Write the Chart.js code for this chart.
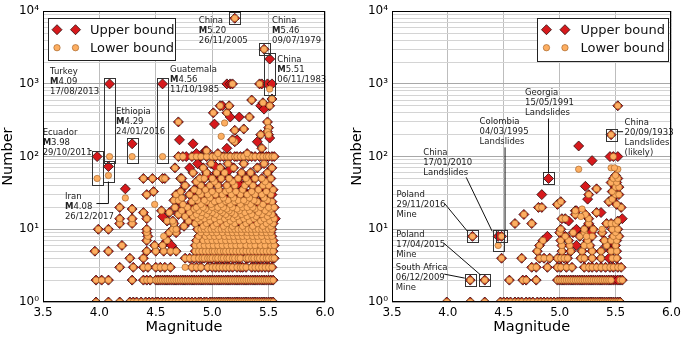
<!DOCTYPE html>
<html lang="en">
<head>
<meta charset="UTF-8" />
<title>Number vs magnitude</title>
<script src="https://cdn.jsdelivr.net/npm/chart.js@4.4.1/dist/chart.umd.min.js"></script>
<style>
  html, body { margin: 0; padding: 0; background: #fff; }
  .panel { position: absolute; top: 0; }
  #left { left: 0; }
  #right { left: 340px; }
</style>
</head>
<body>
<div class="panel" id="left"><canvas id="chartLeft" width="340" height="337"></canvas></div>
<div class="panel" id="right"><canvas id="chartRight" width="345" height="337"></canvas></div>

<script>
// ---- data: left panel ----
// integer levels where upper bound == lower bound, with the magnitudes found at each level
const leftLevels = [1, 2, 3, 4, 5, 6, 7, 8, 9, 10, 11, 12, 13, 14, 15, 16, 17, 18, 19, 20,
  22, 24, 25, 27, 30, 33, 35, 40, 45, 50, 60, 70, 80, 100];
const leftLevelMags = [
  [3.97, 4.08, 4.18, 4.27, 4.30, 4.33, 4.37, 4.41, 4.44, 4.47, 4.50, 4.52, 4.55, 4.58, 4.61, 4.64, 4.67, 4.70, 4.73, 4.76, 4.79, 4.82, 4.85, 4.88, 4.90, 4.93, 4.95, 4.98, 5.00, 5.02, 5.04, 5.06, 5.08, 5.10, 5.12, 5.14, 5.16, 5.18, 5.20, 5.22, 5.24, 5.26, 5.28, 5.30, 5.32, 5.34, 5.36, 5.38, 5.40, 5.42, 5.44, 5.46, 5.48, 5.50, 5.52, 5.54],
  [3.97, 4.02, 4.08, 4.29, 4.39, 4.42, 4.45, 4.50, 4.52, 4.54, 4.56, 4.58, 4.60, 4.62, 4.64, 4.66, 4.68, 4.70, 4.72, 4.74, 4.76, 4.78, 4.80, 4.82, 4.84, 4.86, 4.88, 4.90, 4.92, 4.94, 4.96, 4.98, 5.00, 5.02, 5.04, 5.06, 5.08, 5.10, 5.12, 5.14, 5.16, 5.18, 5.20, 5.22, 5.24, 5.26, 5.28, 5.30, 5.32, 5.34, 5.36, 5.38, 5.40, 5.42, 5.44, 5.46, 5.48, 5.50, 5.52, 5.54],
  [4.18, 4.30, 4.39, 4.43, 4.50, 4.54, 4.58, 4.63, 4.82, 4.86, 4.90, 4.96, 5.00, 5.03, 5.06, 5.09, 5.12, 5.15, 5.18, 5.22, 5.25, 5.27, 5.30, 5.35, 5.38, 5.41, 5.44, 5.47, 5.50, 5.53],
  [4.27, 4.39, 4.76, 4.80, 4.84, 4.88, 4.91, 4.93, 4.96, 4.98, 5.00, 5.03, 5.05, 5.08, 5.10, 5.13, 5.15, 5.18, 5.20, 5.23, 5.25, 5.30, 5.32, 5.35, 5.37, 5.40, 5.42, 5.45, 5.48, 5.50, 5.53, 5.55],
  [3.96, 4.08, 4.42, 4.50, 4.57, 4.63, 4.68, 4.85, 4.88, 4.91, 4.94, 4.97, 5.00, 5.02, 5.05, 5.07, 5.10, 5.12, 5.15, 5.18, 5.21, 5.24, 5.27, 5.30, 5.33, 5.36, 5.39, 5.42, 5.45, 5.48, 5.51, 5.54],
  [4.20, 4.49, 4.56, 4.85, 4.89, 4.93, 4.97, 5.01, 5.05, 5.09, 5.13, 5.17, 5.21, 5.25, 5.30, 5.34, 5.38, 5.43, 5.47, 5.52, 5.55],
  [4.42, 4.60, 4.86, 4.92, 4.96, 5.00, 5.04, 5.08, 5.12, 5.16, 5.20, 5.24, 5.28, 5.33, 5.37, 5.41, 5.46, 5.50, 5.54],
  [4.43, 4.88, 4.94, 4.98, 5.02, 5.06, 5.11, 5.15, 5.19, 5.23, 5.27, 5.31, 5.36, 5.40, 5.44, 5.49, 5.53],
  [4.42, 4.62, 4.68, 4.90, 4.95, 5.00, 5.04, 5.09, 5.14, 5.18, 5.22, 5.26, 5.31, 5.35, 5.39, 5.44, 5.48, 5.52],
  [3.99, 4.08, 4.42, 4.65, 4.68, 4.87, 4.90, 4.93, 4.96, 4.99, 5.02, 5.05, 5.08, 5.11, 5.14, 5.17, 5.20, 5.23, 5.26, 5.29, 5.32, 5.35, 5.38, 5.41, 5.44, 5.47, 5.50, 5.53],
  [4.75, 4.92, 5.01, 5.10, 5.18, 5.27, 5.36, 5.45, 5.52],
  [4.18, 4.29, 4.66, 4.85, 4.95, 5.04, 5.13, 5.20, 5.30, 5.40, 5.48, 5.54],
  [4.60, 4.65, 4.79, 4.89, 4.98, 5.07, 5.16, 5.24, 5.33, 5.43, 5.51],
  [4.18, 4.29, 4.42, 4.87, 4.93, 5.02, 5.11, 5.19, 5.28, 5.37, 5.46, 5.55],
  [4.76, 4.83, 4.90, 4.97, 5.06, 5.14, 5.22, 5.31, 5.39, 5.49],
  [4.70, 4.86, 4.95, 5.03, 5.12, 5.20, 5.26, 5.35, 5.44, 5.53],
  [4.39, 4.62, 4.80, 4.91, 5.00, 5.09, 5.17, 5.29, 5.41, 5.50],
  [4.55, 4.73, 4.88, 4.97, 5.07, 5.15, 5.24, 5.33, 5.47],
  [4.29, 4.84, 4.94, 5.04, 5.13, 5.22, 5.38, 5.52],
  [4.18, 4.67, 4.78, 4.86, 4.92, 5.00, 5.05, 5.10, 5.18, 5.27, 5.31, 5.36, 5.43, 5.50, 5.55],
  [4.74, 4.90, 4.99, 5.08, 5.16, 5.25, 5.34, 5.45],
  [4.82, 4.95, 5.02, 5.12, 5.20, 5.30, 5.40, 5.53],
  [4.66, 4.70, 4.87, 4.93, 5.06, 5.14, 5.23, 5.28, 5.37, 5.49],
  [4.73, 4.85, 4.98, 5.10, 5.19, 5.33, 5.46],
  [4.42, 4.68, 4.80, 4.90, 4.96, 5.03, 5.09, 5.17, 5.25, 5.31, 5.38, 5.44, 5.52],
  [4.48, 4.72, 4.88, 5.00, 5.12, 5.21, 5.35, 5.48],
  [4.84, 4.94, 5.06, 5.15, 5.27, 5.41, 5.54],
  [4.76, 4.90, 4.98, 5.05, 5.13, 5.20, 5.29, 5.36, 5.45, 5.50],
  [4.86, 5.02, 5.18, 5.32, 5.47],
  [4.39, 4.47, 4.56, 4.58, 4.72, 4.73, 4.89, 4.93, 5.00, 5.08, 5.15, 5.23, 5.30, 5.38, 5.44, 5.52],
  [4.83, 4.95, 5.04, 5.11, 5.26, 5.34, 5.49],
  [4.67, 4.92, 5.07, 5.19, 5.40, 5.53],
  [4.99, 5.14, 5.28, 5.46],
  [4.70, 4.74, 4.82, 4.86, 4.90, 4.95, 5.00, 5.03, 5.07, 5.10, 5.13, 5.16, 5.20, 5.22, 5.25, 5.28, 5.32, 5.35, 5.38, 5.42, 5.45, 5.48, 5.50, 5.53, 5.55]
];
// [magnitude, upper bound, lower bound] for the remaining events (null = not shown)
const leftPairs = [
  [3.98, 100, 50], [4.08, 73, 55], [4.09, 1000, 100], [4.29, 150, 100], [4.56, 1000, 100],
  [5.20, 8000, 8000], [5.46, 3000, 3000], [5.51, 2200, 850],
  [4.23, 36, 27], [4.49, null, 22], [4.56, 15, null], [4.57, null, 8], [4.64, 6, null], [4.76, null, 3],
  [4.70, 300, 300], [4.71, 170, null], [4.83, 150, null], [4.77, 100, null], [4.89, 100, null],
  [4.80, 70, null], [4.87, 80, null], [4.86, 110, null], [4.94, 120, null],
  [5.01, 400, 400], [5.07, 500, 500], [5.09, 500, null], [5.13, 400, 400], [5.15, 500, 500],
  [5.16, 350, null], [5.24, 350, null], [5.33, 350, 350], [5.11, null, 290], [5.02, 280, null],
  [5.08, null, 190], [5.20, 230, 230], [5.20, 160, 160], [5.28, 240, 240], [5.35, 600, 600],
  [5.43, 500, null], [5.45, 550, 550], [5.46, 450, null], [5.53, 620, 620], [5.51, 500, 500],
  [5.49, 300, 300], [5.50, 250, 250], [5.49, 220, 220], [5.50, 200, 200], [5.51, 180, null],
  [5.43, 200, 200], [5.44, 130, 130], [5.40, 160, null], [5.13, 130, null], [5.18, 170, 170],
  [5.22, 170, null], [4.95, 120, 120], [5.05, 110, 110], [5.31, 110, 110],
  [5.13, 1000, null], [5.16, 1000, null], [5.18, 1000, 1000], [5.42, 1000, 1000],
  [5.44, 1000, null], [5.49, 1000, null], [5.53, 1000, null],
  [5.03, 73, null], [5.25, 42, null], [5.00, 23, null], [5.07, 12, null], [5.40, 8, null],
  [5.53, 30, null], [5.56, 14, null], [5.23, 42, null], [4.95, 55, null], [5.15, 65, null],
  [5.35, 18, null], [5.12, 26, null]
];

// ---- data: right panel ----
const rightLevels = [1, 2, 3, 4, 5, 6, 7, 8, 9, 10, 12, 13, 14, 16, 17, 18, 20, 22, 24, 26,
  30, 33, 36, 38, 44, 50, 55, 100, 200, 500];
const rightLevelMags = [
  [3.99, 4.20, 4.33, 4.47, 4.50, 4.53, 4.56, 4.60, 4.63, 4.66, 4.70, 4.73, 4.76, 4.80, 4.83, 4.86, 4.89, 4.92, 4.95, 4.98, 5.00, 5.02, 5.04, 5.06, 5.08, 5.10, 5.12, 5.14, 5.16, 5.18, 5.20, 5.22, 5.24, 5.26, 5.28, 5.30, 5.32, 5.34, 5.36, 5.38, 5.40, 5.42, 5.44, 5.46, 5.48, 5.50, 5.52, 5.54],
  [4.20, 4.33, 4.55, 4.67, 4.70, 4.79, 4.98, 5.00, 5.02, 5.04, 5.06, 5.08, 5.10, 5.12, 5.14, 5.16, 5.18, 5.20, 5.22, 5.24, 5.26, 5.28, 5.30, 5.32, 5.34, 5.36, 5.38, 5.40, 5.42, 5.44, 5.46, 5.54, 5.56],
  [4.75, 4.79, 4.89, 4.98, 5.01, 5.06, 5.11, 5.22, 5.26, 5.29, 5.33, 5.37, 5.41, 5.45, 5.48, 5.52, 5.55],
  [4.48, 4.66, 4.82, 4.86, 4.91, 4.98, 5.01, 5.04, 5.07, 5.19, 5.22, 5.29, 5.37, 5.47, 5.51],
  [4.80, 5.02, 5.10, 5.20, 5.29, 5.37, 5.46, 5.51],
  [4.82, 5.02, 5.09, 5.22, 5.27, 5.42, 5.50],
  [4.85, 5.01, 5.08, 5.25, 5.40, 5.46, 5.51],
  [4.22, 4.48, 5.05, 5.18, 5.29, 5.48, 5.53],
  [5.00, 5.12, 5.22, 5.38, 5.50],
  [5.01, 5.22, 5.30, 5.47, 5.52],
  [4.60, 4.75, 5.26, 5.42, 5.46, 5.50],
  [5.52],
  [5.02, 5.05, 5.26],
  [4.68, 5.14, 5.23],
  [5.33],
  [5.14],
  [4.81, 4.84, 5.55],
  [4.98, 5.51],
  [5.01, 5.44],
  [5.47],
  [5.26, 5.50, 5.53],
  [5.47],
  [5.33],
  [5.50, 5.53],
  [5.46, 5.51],
  [5.48, 5.52],
  [5.50],
  [5.48],
  [5.46],
  [5.52]
];
const rightPairs = [
  [4.45, 8, 6], [4.90, 50, null], [4.89, 8, null], [4.84, 30, null], [5.08, 13, null],
  [5.15, 18, null], [5.15, 10, null], [5.15, 6, null], [5.23, 39, null], [5.25, 26, null],
  [5.28, 9, null], [5.37, 17, null], [5.44, 4, null], [5.56, 14, null], [5.17, 140, null],
  [5.29, 88, null], [5.17, null, 67], [5.45, 100, null], [5.52, 100, null], [5.46, null, 70],
  [5.52, null, 67], [5.38, null, 10], [5.24, null, 8], [5.19, null, 15], [5.20, null, 19],
  [5.49, null, 70], [5.48, 2, null], [5.50, 2, null], [5.52, 2, null]
];

// ---- annotations (label lines, text offset and leader in px from the first value) ----
const leftNotes = [
  { mag: 3.98, vals: [100, 50], text: ['Ecuador', 'M3.98', '29/10/2011'], dx: -54.5, dy: -22, lead: [[-8, -6], [-5.5, -6]] },
  { mag: 4.08, vals: [73, 55], text: ['Iran', 'M4.08', '26/12/2017'], dx: -43.5, dy: 32, lead: [[-12, 37], [0, 37], [0, 15]] },
  { mag: 4.09, vals: [1000, 100], text: ['Turkey', 'M4.09', '17/08/2013'], dx: -59.5, dy: -9.5 },
  { mag: 4.29, vals: [150, 100], text: ['Ethiopia', 'M4.29', '24/01/2016'], dx: -16, dy: -30 },
  { mag: 4.56, vals: [1000, 100], text: ['Guatemala', 'M4.56', '11/10/1985'], dx: 7.5, dy: -11.5 },
  { mag: 5.20, vals: [8000], text: ['China', 'M5.20', '26/11/2005'], dx: -36, dy: 5 },
  { mag: 5.46, vals: [3000], text: ['China', 'M5.46', '09/07/1979'], dx: 8, dy: -26.5 },
  { mag: 5.51, vals: [2200, 850], text: ['China', 'M5.51', '06/11/1983'], dx: 7.5, dy: 2.5 }
];
const rightNotes = [
  { mag: 4.90, vals: [50], text: ['Georgia', '15/05/1991', 'Landslides'], dx: -23.5, dy: -83, lead: [[0, -60], [0, -6]] },
  { mag: 4.48, vals: [8], text: ['Colombia', '04/03/1995', 'Landslides'], dx: -22, dy: -112.5, lead: [[3.5, -89], [3.5, -6]] },
  { mag: 4.45, vals: [8, 6], text: ['China', '17/01/2010', 'Landslides'], dx: -75, dy: -81.5, lead: [[-32, -59], [-6, -5]] },
  { mag: 4.22, vals: [8], text: ['Poland', '29/11/2016', 'Mine'], dx: -76, dy: -39.5, lead: [[-28, -33], [-5, -5]] },
  { mag: 4.33, vals: [2], text: ['Poland', '17/04/2015', 'Mine'], dx: -88.5, dy: -43, lead: [[-41, -37], [-4, -5]] },
  { mag: 4.20, vals: [2], text: ['South Africa', '06/12/2009', 'Mine'], dx: -74.5, dy: -10, lead: [[-26, -6], [-5.5, -2]] },
  { mag: 5.46, vals: [200], text: ['China', '20/09/1933', 'Landslides', '(likely)'], dx: 13.5, dy: -10, lead: [[5.5, -3], [12, -3]] }
];

const legendLabels = ['Upper bound', 'Lower bound'];
const yDecades = [1, 10, 100, 1000, 10000];
const yMinorSteps = [2, 3, 4, 5, 6, 7, 8, 9];

// ---- styling ----
const RED = '#d7191c';
const ORANGE = '#fdae61';
const FONT = "'DejaVu Sans', sans-serif";
const NOTE_SIZE = 8.5;
const SUP = ['\u2070', '\u00b9', '\u00b2', '\u00b3', '\u2074'];

const yTicks = [];
yDecades.forEach((d, i) => {
  yTicks.push(d);
  if (i < yDecades.length - 1) yMinorSteps.forEach(s => yTicks.push(d * s));
});
const isDecade = v => Math.abs(Math.log10(v) - Math.round(Math.log10(v))) < 1e-9;

function buildSeries(levels, levelMags, pairs) {
  const upper = [], lower = [];
  levels.forEach((v, i) => {
    levelMags[i].forEach(m => {
      upper.push({ x: m, y: v });
      lower.push({ x: m, y: v });
    });
  });
  pairs.forEach(([m, u, l]) => {
    if (u !== null) upper.push({ x: m, y: u });
    if (l !== null) lower.push({ x: m, y: l });
  });
  return { upper, lower };
}

function diamond(ctx, x, y, r) {
  ctx.beginPath();
  ctx.moveTo(x, y - r); ctx.lineTo(x + r, y); ctx.lineTo(x, y + r); ctx.lineTo(x - r, y);
  ctx.closePath();
  ctx.fillStyle = RED; ctx.fill();
  ctx.strokeStyle = '#2b0a0a'; ctx.lineWidth = 0.8; ctx.stroke();
}
function dot(ctx, x, y, r) {
  ctx.beginPath();
  ctx.arc(x, y, r, 0, Math.PI * 2);
  ctx.fillStyle = ORANGE; ctx.fill();
  ctx.strokeStyle = '#9a5a22'; ctx.lineWidth = 0.6; ctx.stroke();
}

function labelLine(ctx, s, x, y) {
  if (/^M\d/.test(s)) {
    ctx.font = 'bold ' + NOTE_SIZE + 'px ' + FONT;
    ctx.fillText('M', x, y);
    const w = ctx.measureText('M').width;
    ctx.font = NOTE_SIZE + 'px ' + FONT;
    ctx.fillText(s.slice(1), x + w, y);
  } else {
    ctx.font = NOTE_SIZE + 'px ' + FONT;
    ctx.fillText(s, x, y);
  }
}

const decorPlugin = {
  id: 'decor',
  afterDatasetsDraw(chart, args, opts) {
    const { ctx, chartArea: a, scales: { x, y } } = chart;
    ctx.save();

    // annotations
    opts.notes.forEach(n => {
      const px = x.getPixelForValue(n.mag);
      const ys = n.vals.map(v => y.getPixelForValue(v));
      const py = ys[0];
      const top = Math.min(...ys) - 6, bottom = Math.max(...ys) + 6;
      ctx.strokeStyle = '#333'; ctx.lineWidth = 1;
      ctx.strokeRect(Math.round(px - 5.5) + 0.5, Math.round(top) + 0.5, 11, Math.round(bottom - top));
      if (n.lead) {
        ctx.beginPath();
        n.lead.forEach(([dx, dy], i) => {
          const lx = px + dx, ly = py + dy;
          if (i === 0) ctx.moveTo(lx, ly); else ctx.lineTo(lx, ly);
        });
        ctx.strokeStyle = '#111'; ctx.stroke();
      }
      ctx.fillStyle = '#222'; ctx.textAlign = 'left'; ctx.textBaseline = 'alphabetic';
      n.text.forEach((s, i) => labelLine(ctx, s, px + n.dx, py + n.dy + i * 10));
    });

    // legend
    const lg = opts.legend;
    const bx = lg.left !== undefined ? a.left + lg.left : a.right - lg.right - lg.width;
    const by = a.top + lg.top;
    ctx.fillStyle = '#fff';
    ctx.fillRect(bx, by, lg.width, lg.height);
    ctx.strokeStyle = '#222'; ctx.lineWidth = 1;
    ctx.strokeRect(Math.round(bx) + 0.5, Math.round(by) + 0.5, lg.width, lg.height);
    const rows = [by + 11.5, by + 29.5];
    diamond(ctx, bx + 9, rows[0], 5); diamond(ctx, bx + 27.5, rows[0], 5);
    dot(ctx, bx + 9, rows[1], 3.2); dot(ctx, bx + 27.5, rows[1], 3.2);
    ctx.fillStyle = '#111'; ctx.font = '13px ' + FONT; ctx.textBaseline = 'middle';
    ctx.fillText(legendLabels[0], bx + lg.textX, rows[0] + 1);
    ctx.fillText(legendLabels[1], bx + lg.textX, rows[1] + 1);

    // frame
    ctx.strokeStyle = '#000'; ctx.lineWidth = 1;
    ctx.strokeRect(Math.round(a.left) + 0.5, Math.round(a.top) + 0.5,
      Math.round(a.right - a.left) - 1, Math.round(a.bottom - a.top) - 1);
    ctx.restore();
  }
};

function makeChart(id, series, cfg) {
  return new Chart(document.getElementById(id), {
    type: 'scatter',
    data: {
      datasets: [
        { label: legendLabels[1], data: series.lower, order: 0, clip: 0,
          pointStyle: 'circle', pointRadius: 3.2, pointHoverRadius: 3.2,
          backgroundColor: ORANGE, borderColor: '#9a5a22', borderWidth: 0.6 },
        { label: legendLabels[0], data: series.upper, order: 1, clip: 0,
          pointStyle: 'rectRot', pointRadius: 5, pointHoverRadius: 5,
          backgroundColor: RED, borderColor: '#2b0a0a', borderWidth: 0.8 }
      ]
    },
    options: {
      responsive: false,
      animation: false,
      devicePixelRatio: 1,
      layout: { padding: { top: 8, right: cfg.padRight, left: 0, bottom: 0 } },
      plugins: {
        legend: { display: false },
        tooltip: { enabled: false },
        decor: { notes: cfg.notes, legend: cfg.legend }
      },
      scales: {
        x: {
          type: 'linear', min: 3.5, max: 6.0,
          afterFit: s => { s.height = 35; },
          ticks: { stepSize: 0.5, callback: v => v.toFixed(1), color: '#000', padding: 4,
            maxRotation: 0, autoSkip: false, font: { family: FONT, size: 12 } },
          grid: { color: '#bdbdbd', lineWidth: 1, drawTicks: false },
          border: { display: false },
          title: { display: true, text: 'Magnitude', color: '#000',
            font: { family: FONT, size: 14.5 }, padding: { top: 0, bottom: 1 } }
        },
        y: {
          type: 'logarithmic', min: 1, max: 10000,
          afterFit: s => { s.width = cfg.yWidth; },
          afterBuildTicks: s => { s.ticks = yTicks.map(v => ({ value: v })); },
          ticks: { autoSkip: false, color: '#000', padding: 4, font: { family: FONT, size: 12 },
            callback: v => isDecade(v) ? '10' + SUP[Math.round(Math.log10(v))] : '' },
          grid: { drawTicks: false, lineWidth: 1,
            color: c => (c.tick && isDecade(c.tick.value)) ? '#a8a8a8' : '#d4d4d4' },
          border: { display: false },
          title: { display: true, text: 'Number', color: '#000',
            font: { family: FONT, size: 14.5 }, padding: { top: cfg.titlePad, bottom: 0 } }
        }
      }
    },
    plugins: [decorPlugin]
  });
}

const leftChart = makeChart('chartLeft', buildSeries(leftLevels, leftLevelMags, leftPairs), {
  padRight: 15, yWidth: 43, titlePad: 0, notes: leftNotes,
  legend: { left: 5, top: 7, width: 127, height: 42, textX: 42 }
});
const rightChart = makeChart('chartRight', buildSeries(rightLevels, rightLevelMags, rightPairs), {
  padRight: 12, yWidth: 52, titlePad: 9, notes: rightNotes,
  legend: { right: 3, top: 7, width: 131, height: 43, textX: 43 }
});
</script>
</body>
</html>
